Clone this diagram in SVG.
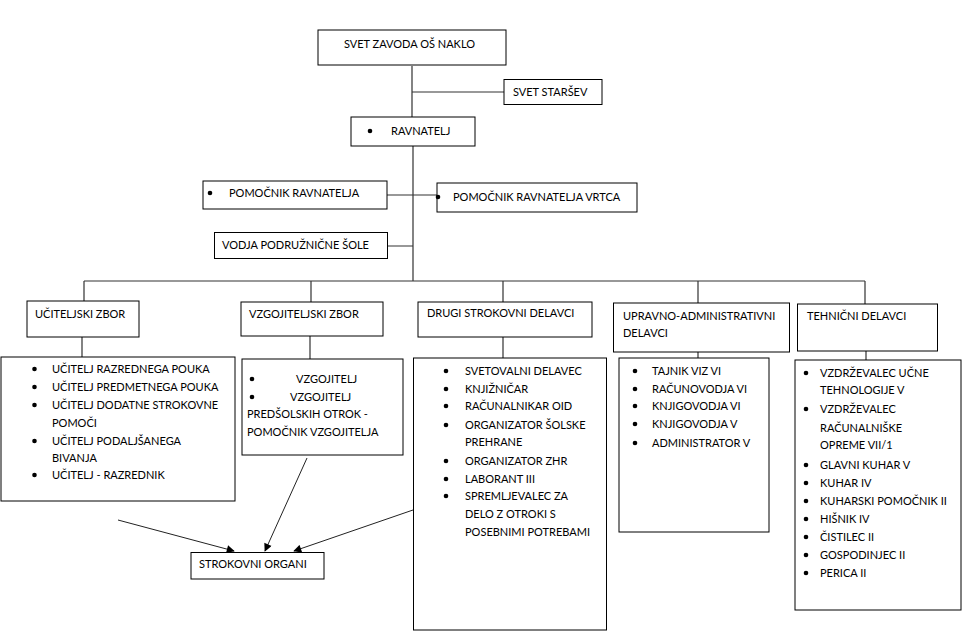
<svg xmlns="http://www.w3.org/2000/svg" width="976" height="644" viewBox="0 0 976 644">
<style>
.box{fill:#fff;stroke:#000;stroke-width:1}
.t{font-family:Lato,"Liberation Sans",sans-serif;font-size:11px;fill:#000}
.c{stroke:#333;stroke-width:1.2;fill:none}
.a{stroke:#222;stroke-width:1;fill:none;marker-end:url(#ah)}
</style>
<defs>
<marker id="ah" viewBox="0 0 10 10" refX="9" refY="5" markerWidth="9" markerHeight="8" markerUnits="userSpaceOnUse" orient="auto">
<path d="M0,0 L10,5 L0,10 z" fill="#000"/>
</marker>
<circle id="b" r="2.3" fill="#000"/>
</defs>
<rect width="976" height="644" fill="#fff"/>
<g id="connectors">
<path class="c" d="M412,66 V117 M412,92 H504 M413,146 V281 M387,195 H437 M387,246 H413 M84,281 H865 M84,281 V301 M311,281 V302 M503,281 V302 M698,281 V303 M865,281 V304"/>
<path class="c" d="M82,337 V357 M310,336 V359 M503,337 V358 M698,352 V358 M866,351 V360"/>
<line class="a" x1="118" y1="520" x2="234" y2="551"/>
<line class="a" x1="307" y1="458" x2="265" y2="551"/>
<line class="a" x1="413" y1="510" x2="294" y2="551"/>
</g>
<g id="svet-zavoda"><rect class="box" x="318" y="30" width="188" height="35"/><text class="t" x="344" y="48">SVET ZAVODA OŠ NAKLO</text></g>
<g id="svet-starsev"><rect class="box" x="504" y="79.5" width="98" height="25"/><text class="t" x="513" y="96">SVET STARŠEV</text></g>
<g id="ravnatelj"><rect class="box" x="351" y="117" width="124" height="29"/><use href="#b" x="370" y="131"/><text class="t" x="391" y="135">RAVNATELJ</text></g>
<g id="pomocnik"><rect class="box" x="203" y="181" width="184" height="28"/><use href="#b" x="210" y="193"/><text class="t" x="229" y="197">POMOČNIK RAVNATELJA</text></g>
<g id="pomocnik-vrtca"><rect class="box" x="437" y="183" width="200" height="29"/><use href="#b" x="438" y="197"/><text class="t" x="453" y="201">POMOČNIK RAVNATELJA VRTCA</text></g>
<g id="vodja"><rect class="box" x="214.5" y="232.5" width="173" height="26"/><text class="t" x="222" y="249">VODJA PODRUŽNIČNE ŠOLE</text></g>
<g id="uciteljski-zbor"><rect class="box" x="27" y="301" width="112" height="36"/><text class="t" x="35" y="318">UČITELJSKI ZBOR</text></g>
<g id="vzgojiteljski-zbor"><rect class="box" x="241" y="302" width="142" height="34"/><text class="t" x="249" y="318">VZGOJITELJSKI ZBOR</text></g>
<g id="drugi"><rect class="box" x="418" y="302" width="174" height="35"/><text class="t" x="427" y="317">DRUGI STROKOVNI DELAVCI</text></g>
<g id="upravno"><rect class="box" x="613.5" y="303" width="176" height="49"/><text class="t" x="623" y="320">UPRAVNO-ADMINISTRATIVNI</text><text class="t" x="623" y="337">DELAVCI</text></g>
<g id="tehnicni"><rect class="box" x="797.5" y="304" width="140" height="47"/><text class="t" x="807" y="320">TEHNIČNI DELAVCI</text></g>
<g id="ucitelji-list"><rect class="box" x="1" y="357" width="234" height="144"/>
<use href="#b" x="34.5" y="369"/><use href="#b" x="34.5" y="387"/><use href="#b" x="34.5" y="405"/><use href="#b" x="34.5" y="441"/><use href="#b" x="34.5" y="475"/>
<text class="t" x="52" y="373">UČITELJ RAZREDNEGA POUKA</text>
<text class="t" x="52" y="391">UČITELJ PREDMETNEGA POUKA</text>
<text class="t" x="52" y="409">UČITELJ DODATNE STROKOVNE</text>
<text class="t" x="52" y="427">POMOČI</text>
<text class="t" x="52" y="445">UČITELJ PODALJŠANEGA</text>
<text class="t" x="52" y="462">BIVANJA</text>
<text class="t" x="52" y="479">UČITELJ - RAZREDNIK</text>
</g>
<g id="vzgojitelji-list"><rect class="box" x="242" y="359" width="161" height="96"/>
<use href="#b" x="252" y="379"/><use href="#b" x="252" y="397"/>
<text class="t" x="296" y="383">VZGOJITELJ</text>
<text class="t" x="290" y="401">VZGOJITELJ</text>
<text class="t" x="247" y="418">PREDŠOLSKIH OTROK -</text>
<text class="t" x="247" y="436">POMOČNIK VZGOJITELJA</text>
</g>
<g id="drugi-list"><rect class="box" x="413.5" y="358" width="193" height="272"/>
<use href="#b" x="446" y="371"/><use href="#b" x="446" y="389"/><use href="#b" x="446" y="406"/><use href="#b" x="446" y="425"/><use href="#b" x="446" y="461"/><use href="#b" x="446" y="479"/><use href="#b" x="446" y="496"/>
<text class="t" x="465" y="375">SVETOVALNI DELAVEC</text>
<text class="t" x="465" y="393">KNJIŽNIČAR</text>
<text class="t" x="465" y="410">RAČUNALNIKAR OID</text>
<text class="t" x="465" y="429">ORGANIZATOR ŠOLSKE</text>
<text class="t" x="465" y="446">PREHRANE</text>
<text class="t" x="465" y="465">ORGANIZATOR ZHR</text>
<text class="t" x="465" y="483">LABORANT III</text>
<text class="t" x="465" y="500">SPREMLJEVALEC ZA</text>
<text class="t" x="465" y="518">DELO Z OTROKI S</text>
<text class="t" x="465" y="536">POSEBNIMI POTREBAMI</text>
</g>
<g id="upravno-list"><rect class="box" x="619" y="358" width="150" height="174"/>
<use href="#b" x="635" y="371"/><use href="#b" x="635" y="389"/><use href="#b" x="635" y="406"/><use href="#b" x="635" y="424"/><use href="#b" x="635" y="443"/>
<text class="t" x="652" y="375">TAJNIK VIZ VI</text>
<text class="t" x="652" y="393">RAČUNOVODJA VI</text>
<text class="t" x="652" y="410">KNJIGOVODJA VI</text>
<text class="t" x="652" y="428">KNJIGOVODJA V</text>
<text class="t" x="652" y="447">ADMINISTRATOR V</text>
</g>
<g id="tehnicni-list"><rect class="box" x="795" y="360" width="166" height="250"/>
<use href="#b" x="806" y="373"/><use href="#b" x="806" y="409"/><use href="#b" x="806" y="465"/><use href="#b" x="806" y="483"/><use href="#b" x="806" y="501"/><use href="#b" x="806" y="519"/><use href="#b" x="806" y="537"/><use href="#b" x="806" y="555"/><use href="#b" x="806" y="573"/>
<text class="t" x="820" y="377">VZDRŽEVALEC UČNE</text>
<text class="t" x="820" y="394">TEHNOLOGIJE V</text>
<text class="t" x="820" y="413">VZDRŽEVALEC</text>
<text class="t" x="820" y="432">RAČUNALNIŠKE</text>
<text class="t" x="820" y="449">OPREME VII/1</text>
<text class="t" x="820" y="469">GLAVNI KUHAR V</text>
<text class="t" x="820" y="487">KUHAR IV</text>
<text class="t" x="820" y="505">KUHARSKI POMOČNIK II</text>
<text class="t" x="820" y="523">HIŠNIK IV</text>
<text class="t" x="820" y="541">ČISTILEC II</text>
<text class="t" x="820" y="559">GOSPODINJEC II</text>
<text class="t" x="820" y="577">PERICA II</text>
</g>
<g id="strokovni-organi"><rect class="box" x="191" y="552.5" width="133" height="26.5"/><text class="t" x="199" y="568">STROKOVNI ORGANI</text></g>
</svg>
